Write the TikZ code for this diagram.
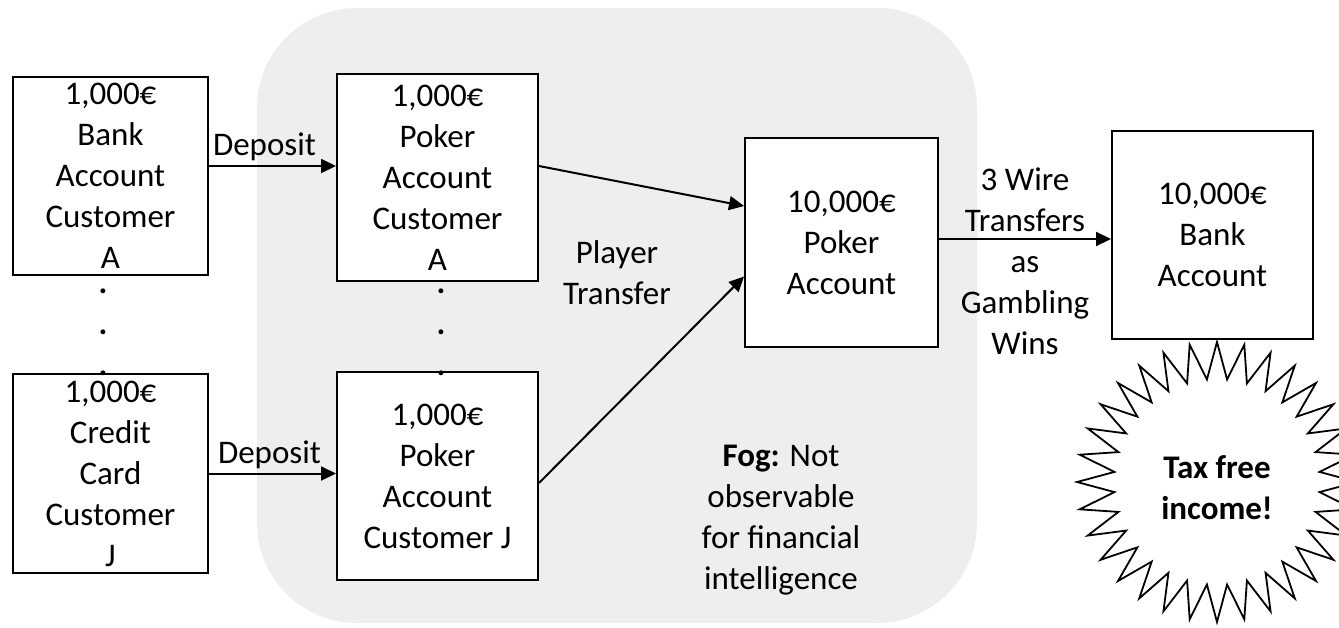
\documentclass[tikz,border=0pt]{standalone}
\usepackage{fontspec}
\setmainfont{Carlito}
\usetikzlibrary{arrows.meta,calc}
\definecolor{fogc}{RGB}{238,238,238}
\begin{document}
\begin{tikzpicture}[x=1pt,y=-1pt,
  every node/.style={font=\fontsize{33}{41}\selectfont, align=center},
  acct/.style={draw, line width=2pt, fill=white, inner sep=0pt},
  arr/.style={line width=2pt, -{Triangle[length=15pt,width=14pt]}},
  lbl/.style={inner sep=0pt},
  dots/.style={inner sep=0pt, font=\bfseries\fontsize{33}{41}\selectfont},
  starc/.style={draw, line width=1.8pt, fill=white, line join=miter}]
\useasboundingbox (0,0) rectangle (1339,627);
\clip (0,0) rectangle (1339,627);
% fog region
\fill[fogc, rounded corners=100pt] (257,8) rectangle (977,623);
% accounts
\node[acct, minimum width=195pt, minimum height=198pt] (b1) at (110.5,176) {1,000€\\Bank\\Account\\Customer\\A};
\node[acct, minimum width=195pt, minimum height=199pt] (b2) at (110.5,473.5) {1,000€\\Credit\\Card\\Customer\\J};
\node[acct, minimum width=201pt, minimum height=207pt] (pA) at (437.5,177.5) {1,000€\\Poker\\Account\\Customer\\A};
\node[acct, minimum width=201pt, minimum height=208pt] (pJ) at (437.5,476) {1,000€\\Poker\\Account\\Customer J};
\node[acct, minimum width=193pt, minimum height=209pt] (pk) at (841.5,242.5) {10,000€\\Poker\\Account};
\node[acct, minimum width=201pt, minimum height=208pt] (ba) at (1212.5,235) {10,000€\\Bank\\Account};
% dots
\node[dots] (dotsL) at (103,332) {.\\.\\.};
\node[dots] (dotsR) at (441,332) {.\\.\\.};
% connectors
\coordinate (dA) at ($(b1.east)+(0,-10)$);
\draw[arr] (dA) -- (dA -| pA.west) node[midway, above, xshift=-8pt, inner sep=4pt] {Deposit};
\draw[arr] (b2.east) -- (b2.east -| pJ.west) node[midway, above, xshift=-3pt, inner sep=4pt] {Deposit};
\draw[arr] ($(pA.east)+(0,-11.5)$) -- ($(pk.west)+(0,-36.5)$);
\draw[arr] ($(pJ.east)+(0,7)$) -- ($(pk.west)+(0,34)$);
\coordinate (wA) at ($(pk.east)+(0,-3.5)$);
\draw[arr] (wA) -- (wA -| ba.west);
% labels
\node[lbl] (player) at (617,273) {Player\\Transfer};
\node[lbl] (wire) at (1025,261) {3 Wire\\Transfers\\as\\Gambling\\Wins};
\node[lbl] (fog) at (781,520) {\textbf{Fog:} Not\\observable\\for financial\\intelligence};
% starburst (32-point star)
\coordinate (bc) at (1217,482);
\draw[starc] ($(bc)+(90:140)$)
  \foreach \k in {0,...,31} { -- ($(bc)+({90+\k*11.25+5.625}:103)$) -- ($(bc)+({90+\k*11.25+11.25}:140)$) } -- cycle;
\node[lbl, font=\bfseries\fontsize{33}{41}\selectfont] (burst) at (1217,488) {Tax free\\income!};
\end{tikzpicture}
\end{document}
